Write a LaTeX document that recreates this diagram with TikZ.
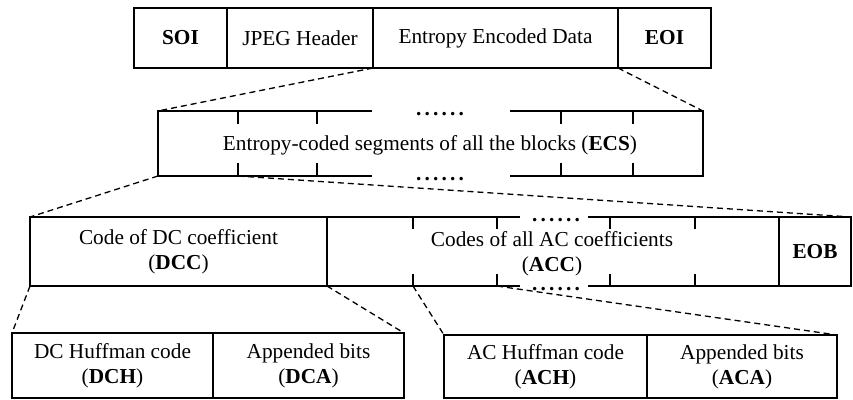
\documentclass[tikz,border=0pt]{standalone}
\usepackage{fontspec}
\setmainfont{Liberation Serif}
\newcommand\sixdots{\textbf{.\kern3.2pt.\kern3.2pt.\kern3.2pt.\kern3.2pt.\kern3.2pt.}}
\begin{document}
\begin{tikzpicture}[x=1pt,y=-1pt,
  font=\fontsize{21.3}{25}\selectfont,
  cell/.style={draw,line width=1.8pt,rectangle,inner sep=0pt,outer sep=0pt,
               anchor=north west,align=center},
  seg/.style={line width=1.8pt},
  zoomline/.style={line width=1.3pt,dash pattern=on 6pt off 4pt},
  lbl/.style={inner sep=0pt,align=center},
  dots/.style={inner sep=0pt,anchor=base,text height=3pt,text depth=0pt}]
\useasboundingbox (0,0) rectangle (853,399);

% ---- JPEG file layout ----
\node[cell,minimum width=93pt,minimum height=60pt]  (soi) at (134,8)  {\textbf{SOI}};
\node[cell,minimum width=146pt,minimum height=60pt] (hdr) at (227,8)  {JPEG Header};
\node[cell,minimum width=245pt,minimum height=60pt] (ent) at (373,8)  {Entropy Encoded Data};
\node[cell,minimum width=93pt,minimum height=60pt]  (eoi) at (618,8)  {\textbf{EOI}};

% ---- entropy-coded segments (open strip) ----
\coordinate (ecsNW) at (158,111);
\coordinate (ecsSW) at (158,176);
\coordinate (ecsNE) at (703,111);
\coordinate (ecsSE) at (703,176);
\coordinate (ecsT1) at (238,176);
\draw[seg] (372,111) -- (ecsNW) -- (ecsSW) -- (372,176);
\draw[seg] (510,111) -- (ecsNE) -- (ecsSE) -- (510,176);
\foreach \x in {238,317,561,633}{
  \draw[seg] (\x,111) -- (\x,124);
  \draw[seg] (\x,163) -- (\x,176);
}
\node[dots] (ecsdt) at (440,115) {\sixdots};
\node[dots] (ecsdb) at (440,180) {\sixdots};
\node[lbl] (ecs) at (430,145) {Entropy-coded segments of all the blocks (\textbf{ECS})};

% ---- one block: DC code, AC codes, end of block ----
\node[cell,minimum width=297pt,minimum height=69pt] (dcc) at (30,217)
  {Code of DC coefficient\\(\textbf{DCC})};
\node[cell,minimum width=72pt,minimum height=69pt] (eob) at (779,217) {\textbf{EOB}};
\coordinate (accT1) at (413,286);
\coordinate (accT2) at (497,286);
\draw[seg] (327,217) -- (520,217);
\draw[seg] (588,217) -- (779,217);
\draw[seg] (327,286) -- (520,286);
\draw[seg] (588,286) -- (779,286);
\foreach \x in {413,497,610,695}{
  \draw[seg] (\x,217) -- (\x,229);
  \draw[seg] (\x,274) -- (\x,286);
}
\node[dots] (accdt) at (556,221) {\sixdots};
\node[dots] (accdb) at (556,290) {\sixdots};
\node[lbl] (acc) at (552,254) {Codes of all AC coefficients\\(\textbf{ACC})};

% ---- DC and AC code structure ----
\node[cell,minimum width=201pt,minimum height=65pt] (dch) at (12,333)
  {DC Huffman code\\(\textbf{DCH})};
\node[cell,minimum width=191pt,minimum height=65pt] (dca) at (213,333)
  {Appended bits\\(\textbf{DCA})};
\node[cell,minimum width=203pt,minimum height=63pt] (ach) at (444,335)
  {AC Huffman code\\(\textbf{ACH})};
\node[cell,minimum width=190pt,minimum height=63pt] (aca) at (647,335)
  {Appended bits\\(\textbf{ACA})};

% ---- zoom-in guides ----
\draw[zoomline] (ent.south west) -- (ecsNW);
\draw[zoomline] (ent.south east) -- (ecsNE);
\draw[zoomline] (ecsSW) -- (dcc.north west);
\draw[zoomline] (ecsT1) -- (eob.north east);
\draw[zoomline] (dcc.south west) -- (dch.north west);
\draw[zoomline] (dcc.south east) -- (dca.north east);
\draw[zoomline] (accT1) -- (ach.north west);
\draw[zoomline] (accT2) -- (aca.north east);
\end{tikzpicture}
\end{document}
